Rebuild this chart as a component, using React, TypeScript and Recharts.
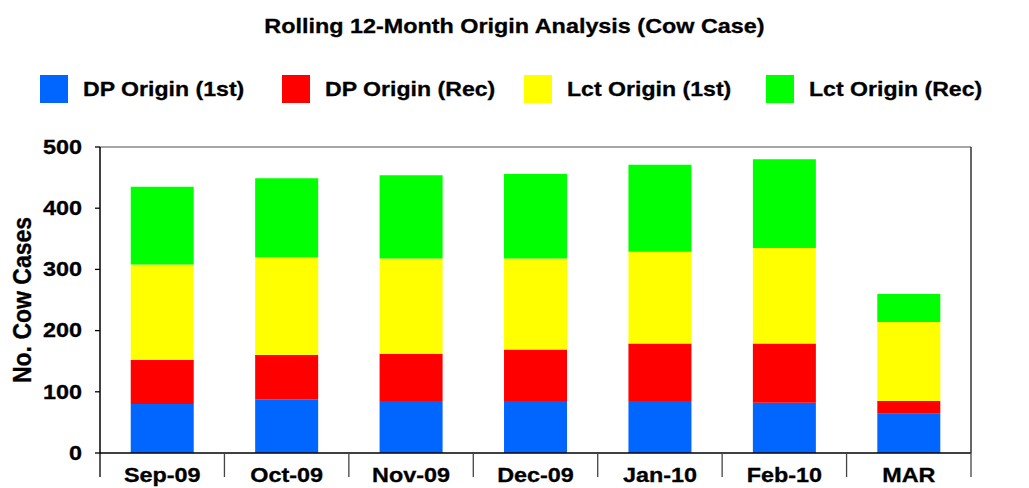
import React from 'react';
import { BarChart, Bar, XAxis, YAxis, ReferenceLine } from 'recharts';

const categories = ['Sep-09', 'Oct-09', 'Nov-09', 'Dec-09', 'Jan-10', 'Feb-10', 'MAR'];
const dpFirst = [80, 88, 85, 85, 85, 82, 64];
const dpRec = [72, 72, 77, 84, 94, 97, 21];
const lctFirst = [156, 160, 156, 149, 150, 156, 129];
const lctRec = [127, 129, 136, 138, 142, 145, 46];
const yTicks = [0, 100, 200, 300, 400, 500];

const seriesNames = ['DP Origin (1st)', 'DP Origin (Rec)', 'Lct Origin (1st)', 'Lct Origin (Rec)'];
const seriesKeys = ['dpFirst', 'dpRec', 'lctFirst', 'lctRec'];
const seriesColors = ['#0066FF', '#FF0000', '#FFFF00', '#00FF00'];

const data = categories.map((c, i) => ({
  name: c,
  dpFirst: dpFirst[i],
  dpRec: dpRec[i],
  lctFirst: lctFirst[i],
  lctRec: lctRec[i],
}));

const FONT = '"Liberation Sans", Arial, Helvetica, sans-serif';
const W = 1029;
const H = 488;
const LEFT_W = 100;
const RIGHT_W = 58;
const TOP = 147;
const X_H = 35;

const YTick = (props: any) => {
  const { x, y, payload, textAnchor } = props;
  return (
    <g transform={`translate(${x},${y}) scale(1.17,1)`}>
      <text x={0} y={0} textAnchor={textAnchor} dominantBaseline="central" fontFamily={FONT} fontWeight="bold" fontSize={20} fill="#000" stroke="#000" strokeWidth={0.3}>
        {payload.value}
      </text>
    </g>
  );
};

const XTick = (props: any) => {
  const { x, y, payload, index } = props;
  const band = (W - LEFT_W - RIGHT_W) / categories.length;
  const half = payload && payload.offset ? payload.offset : band / 2;
  const last = index === categories.length - 1;
  return (
    <g>
      <line x1={x - half} x2={x - half} y1={y} y2={y + 24} stroke={index === 0 ? '#000' : '#444'} strokeWidth={1.3} />
      {last && <line x1={x + half} x2={x + half} y1={y} y2={y + 24} stroke="#444" strokeWidth={1.3} />}
      <g transform={`translate(${x},${y + 29}) scale(1.17,1)`}>
        <text x={0} y={0} textAnchor="middle" fontFamily={FONT} fontWeight="bold" fontSize={20} fill="#000" stroke="#000" strokeWidth={0.3}>
          {payload.value}
        </text>
      </g>
    </g>
  );
};

const YLabel = () => (
  <g transform={`translate(22,300) scale(1.13,1) rotate(-90)`}>
    <text x={0} y={0} textAnchor="middle" dominantBaseline="central" fontFamily={FONT} fontWeight="bold" fontSize={23} fill="#000" stroke="#000" strokeWidth={0.3}>
      No. Cow Cases
    </text>
  </g>
);

export default function App() {
  return (
    <div style={{ position: 'absolute', left: 0, top: 0, width: W, height: H, background: '#fff', fontFamily: FONT }}>
      <div style={{ position: 'absolute', left: 0, top: 13.5, width: 1028, textAlign: 'center', lineHeight: 'normal' }}>
        <span style={{ display: 'inline-block', fontSize: 20.5, fontWeight: 'bold', transform: 'scaleX(1.14)', transformOrigin: 'center', WebkitTextStroke: '0.3px #000' }}>
          Rolling 12-Month Origin Analysis (Cow Case)
        </span>
      </div>
      <div style={{ position: 'absolute', left: 40, top: 75, display: 'flex' }}>
        {seriesNames.map((n, i) => (
          <div key={n} style={{ width: 242, height: 28, display: 'flex', alignItems: 'center' }}>
            <div style={{ width: 28, height: 28, background: seriesColors[i], marginRight: 15, flexShrink: 0 }} />
            <span style={{ display: 'inline-block', fontSize: 21, fontWeight: 'bold', whiteSpace: 'nowrap', transform: 'scaleX(1.1)', transformOrigin: 'left center', WebkitTextStroke: '0.3px #000' }}>
              {n}
            </span>
          </div>
        ))}
      </div>
      <div style={{ position: 'absolute', left: 0, top: 0 }}>
        <BarChart width={W} height={H} data={data} margin={{ top: TOP, right: 0, bottom: 0, left: 0 }} barCategoryGap="24.7%">
          <XAxis
            dataKey="name"
            height={X_H}
            tickSize={0}
            tickMargin={0}
            tickLine={false}
            axisLine={{ stroke: '#000', strokeWidth: 1.5 }}
            tick={<XTick />}
            interval={0}
          />
          <YAxis
            yAxisId="left"
            orientation="left"
            width={LEFT_W}
            domain={[0, 500]}
            ticks={yTicks}
            tickSize={5}
            tickMargin={13}
            stroke="#000"
            axisLine={{ stroke: '#000', strokeWidth: 1.5 }}
            tickLine={{ stroke: '#000', strokeWidth: 1.3 }}
            tick={<YTick />}
            interval={0}
          />
          <YAxis
            yAxisId="right"
            orientation="right"
            width={RIGHT_W}
            domain={[0, 500]}
            ticks={yTicks}
            tickSize={6}
            tickMargin={10}
            stroke="#333"
            axisLine={{ stroke: '#333', strokeWidth: 1.5 }}
            tickLine={{ stroke: '#333', strokeWidth: 1.3 }}
            tick={<YTick />}
            interval={0}
          />
          <ReferenceLine yAxisId="left" y={500} stroke="#888" strokeWidth={1.5} />
          {seriesKeys.map((k, i) => (
            <Bar key={k} yAxisId="left" dataKey={k} name={seriesNames[i]} stackId="a" fill={seriesColors[i]} isAnimationActive={false} />
          ))}
        </BarChart>
      </div>
      <svg width={W} height={H} style={{ position: 'absolute', left: 0, top: 0, pointerEvents: 'none' }}>
        <YLabel />
      </svg>
    </div>
  );
}
